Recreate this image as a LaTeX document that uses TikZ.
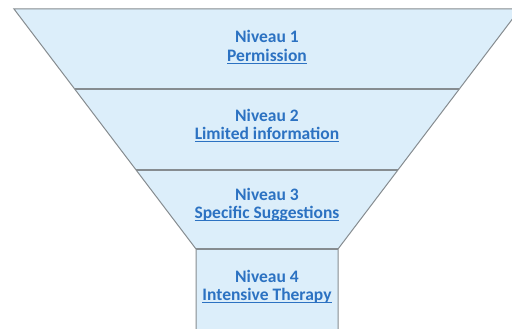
\documentclass[tikz,border=0pt]{standalone}
\usepackage{fontspec}
\setmainfont{Carlito}
\definecolor{funnelfill}{HTML}{DCEEFA}
\definecolor{funnelline}{HTML}{868C90}
\definecolor{textblue}{HTML}{2C72C2}
\newcommand{\lvlul}[1]{\underline{\smash{#1}}}
\tikzset{
  levelline/.style={draw=funnelline, line width=1.1pt},
  title/.style={anchor=base, inner sep=0pt, text=textblue, font=\fontsize{17.5}{18}\selectfont\bfseries},
}
\begin{document}
\begin{tikzpicture}[x=1pt,y=-1pt]
\useasboundingbox (0,0) rectangle (512,329);
\clip (0,0) rectangle (512,329);
\fill[white] (0,0) rectangle (512,329);
% funnel body
\path[fill=funnelfill, draw=funnelline, line width=1pt]
  (14,9) -- (520,9) -- (338,249) -- (338,340) -- (196,340) -- (196,249) -- cycle;
% level separators
\draw[levelline] (74.7,89) -- (459.3,89);
\draw[levelline] (136.1,170) -- (397.9,170);
\draw[levelline] (196,249) -- (338,249);
% texts
\node[title] (n1) at (267,43) {Niveau 1};
\node[title] (t1) at (267,61.5) {\lvlul{Permission}};
\node[title] (n2) at (267,121.5) {Niveau 2};
\node[title] (t2) at (267,139.5) {\lvlul{Limited information}};
\node[title] (n3) at (267,200.5) {Niveau 3};
\node[title] (t3) at (267,218.5) {\lvlul{Specific Suggestions}};
\node[title] (n4) at (267,282.5) {Niveau 4};
\node[title] (t4) at (267,300.5) {\lvlul{Intensive Therapy}};
\end{tikzpicture}
\end{document}
